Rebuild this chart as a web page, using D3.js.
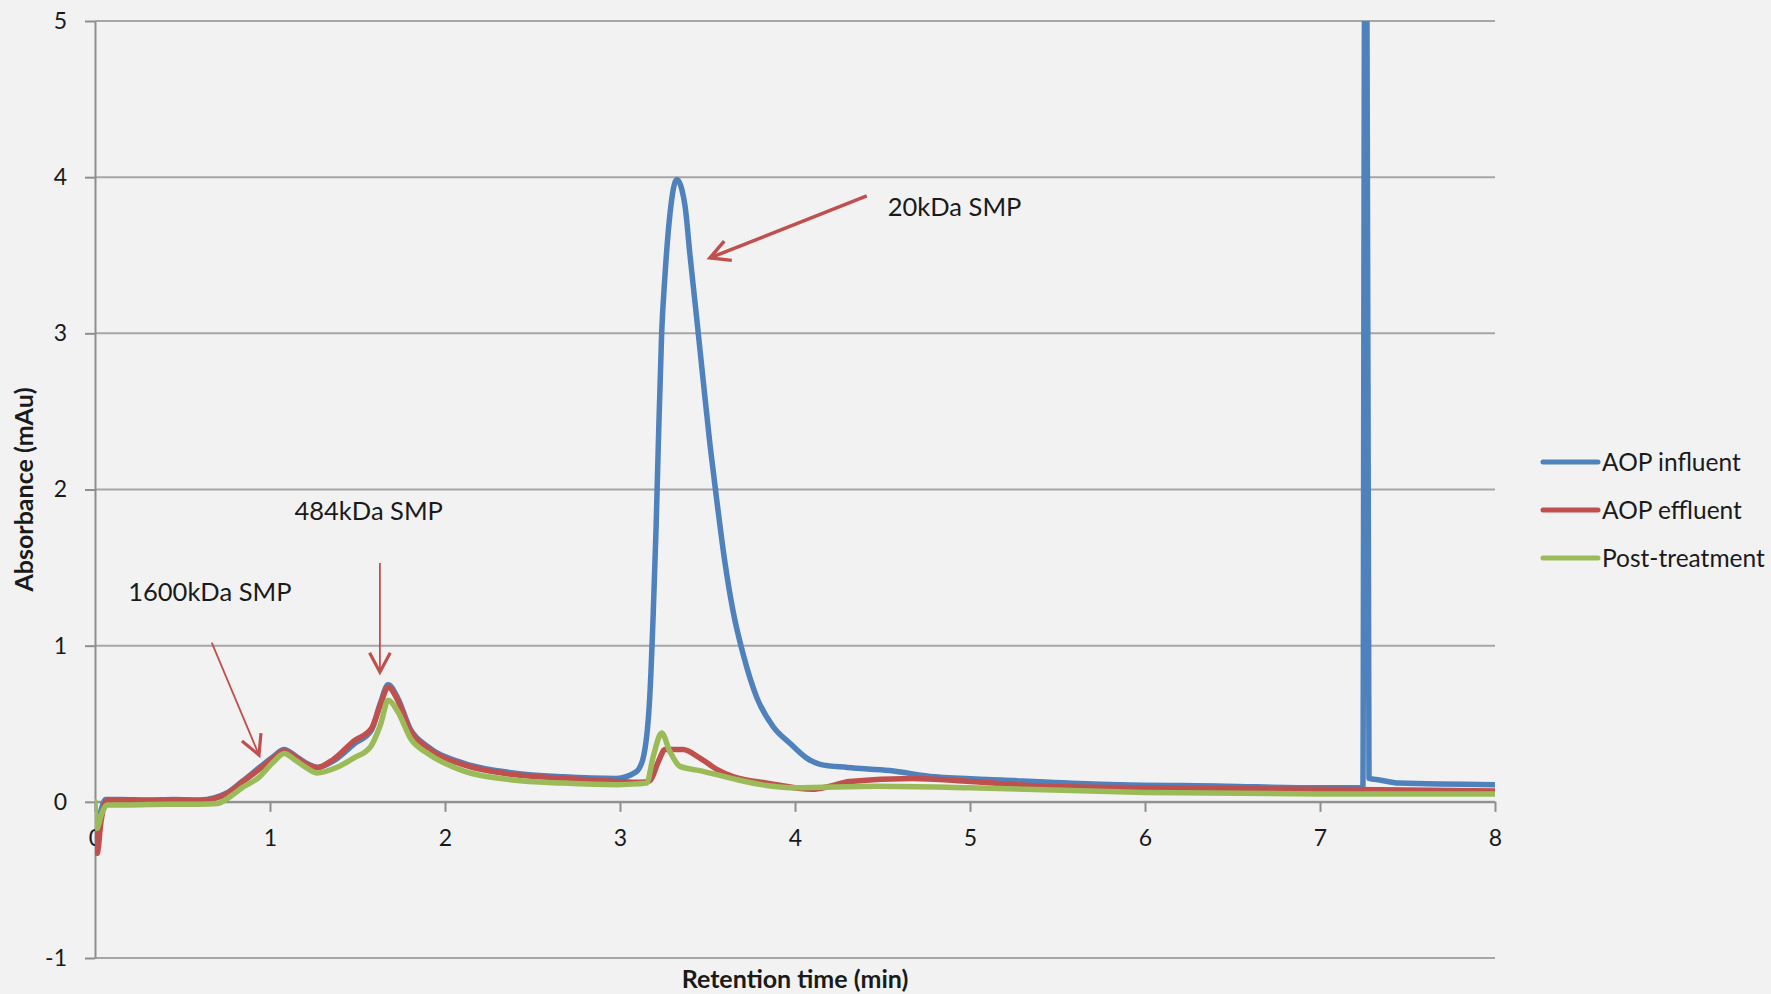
<!DOCTYPE html>
<html>
<head>
<meta charset="utf-8">
<script src="https://cdn.jsdelivr.net/npm/d3@7"></script>
<style>
  body { margin: 0; background: #f2f2f2; }
  text { font-family: Lato, "Open Sans", sans-serif; fill: #1a1a1a; }
</style>
</head>
<body>
<svg id="chart"></svg>
<script>
var width = 1771,
    height = 994;

// series: [retention time (min), absorbance (mAu)]
const influent = [
  [0.0, -0.12], [0.02, -0.1], [0.06, 0.015], [0.15, 0.015], [0.3, 0.012], [0.45, 0.015],
  [0.6, 0.012], [0.68, 0.025], [0.75, 0.055], [0.84, 0.13], [0.94, 0.22], [1.02, 0.29],
  [1.08, 0.335], [1.15, 0.29], [1.22, 0.24], [1.27, 0.22], [1.36, 0.26], [1.48, 0.37],
  [1.58, 0.46], [1.63, 0.63], [1.675, 0.75], [1.73, 0.665], [1.8, 0.47], [1.9, 0.355],
  [2.1, 0.25], [2.39, 0.185], [2.68, 0.16], [2.98, 0.15], [3.09, 0.19], [3.13, 0.27],
  [3.17, 0.67], [3.19, 1.21], [3.206, 1.75], [3.219, 2.29], [3.238, 3.0], [3.257, 3.37],
  [3.286, 3.77], [3.324, 3.985], [3.371, 3.82], [3.4, 3.5], [3.438, 3.1], [3.476, 2.69],
  [3.514, 2.29], [3.552, 1.94], [3.6, 1.53], [3.648, 1.21], [3.705, 0.94], [3.781, 0.67],
  [3.876, 0.48], [3.971, 0.375], [4.067, 0.28], [4.143, 0.24], [4.3, 0.22], [4.54, 0.2],
  [4.8, 0.16], [5.18, 0.14], [5.7, 0.115], [6.46, 0.1], [7.0, 0.09], [7.245, 0.09],
  [7.255, 5.2], [7.268, 5.2], [7.28, 0.15], [7.34, 0.14], [7.45, 0.12], [8.0, 0.11]
];

const effluent = [
  [0.0, -0.2], [0.012, -0.33], [0.035, -0.12], [0.07, 0.01], [0.15, 0.012], [0.3, 0.008],
  [0.45, 0.01], [0.6, 0.008], [0.68, 0.02], [0.75, 0.05], [0.84, 0.125], [0.94, 0.21],
  [1.02, 0.28], [1.08, 0.325], [1.15, 0.285], [1.22, 0.235], [1.27, 0.22], [1.36, 0.27],
  [1.48, 0.39], [1.58, 0.47], [1.63, 0.62], [1.675, 0.735], [1.73, 0.65], [1.8, 0.46],
  [1.9, 0.345], [2.1, 0.24], [2.39, 0.175], [2.68, 0.15], [2.98, 0.13], [3.12, 0.125],
  [3.171, 0.135], [3.22, 0.26], [3.257, 0.335], [3.36, 0.335], [3.457, 0.28], [3.55, 0.21],
  [3.65, 0.16], [3.84, 0.12], [4.1, 0.08], [4.2, 0.1], [4.31, 0.13], [4.67, 0.15],
  [5.0, 0.13], [5.43, 0.1], [6.0, 0.09], [7.0, 0.08], [8.0, 0.07]
];

const postTreatment = [
  [0.0, 0.0], [0.01, -0.17], [0.04, -0.07], [0.07, -0.02], [0.2, -0.02], [0.4, -0.015],
  [0.6, -0.015], [0.7, -0.01], [0.78, 0.04], [0.84, 0.09], [0.94, 0.16], [1.015, 0.25],
  [1.082, 0.31], [1.14, 0.27], [1.205, 0.22], [1.266, 0.185], [1.38, 0.22], [1.478, 0.28],
  [1.575, 0.354], [1.633, 0.5], [1.675, 0.65], [1.729, 0.58], [1.806, 0.4], [1.902, 0.31],
  [2.1, 0.2], [2.386, 0.14], [2.676, 0.12], [2.985, 0.11], [3.1, 0.115], [3.152, 0.12],
  [3.19, 0.29], [3.238, 0.44], [3.286, 0.32], [3.343, 0.227], [3.457, 0.2], [3.65, 0.147],
  [3.838, 0.105], [4.0, 0.09], [4.47, 0.1], [5.0, 0.09], [6.0, 0.06], [7.0, 0.05], [8.0, 0.05]
];

const seriesNames = ["AOP influent", "AOP effluent", "Post-treatment"];
const seriesColors = ["#4f81bd", "#c0504d", "#9bbb59"];

const xTicks = [0, 1, 2, 3, 4, 5, 6, 7, 8];
const yTicks = [-1, 0, 1, 2, 3, 4, 5];

// arrows: label, label position, arrow start, arrow tip (data units)
const notes = [
  { label: "20kDa SMP",   tx: 4.53, ty: 3.81, x1: 4.41, y1: 3.88, x2: 3.514, y2: 3.483, heavy: true },
  { label: "484kDa SMP",  tx: 1.14, ty: 1.86, x1: 1.628, y1: 1.53, x2: 1.628, y2: 0.83, heavy: false },
  { label: "1600kDa SMP", tx: 0.19, ty: 1.34, x1: 0.667, y1: 1.02, x2: 0.937, y2: 0.30, heavy: false }
];

const svg = d3.select("#chart")
  .attr("width", width)
  .attr("height", height);

svg.append("rect").attr("width", width).attr("height", height).attr("fill", "#f2f2f2");

var x = d3.scaleLinear().domain([0, 8]).range([95, 1495]);
var y = d3.scaleLinear().domain([-1, 5]).range([958, 21]);

// horizontal gridlines
svg.append("g")
  .selectAll("line")
  .data(yTicks)
  .enter().append("line")
  .attr("x1", x(0)).attr("x2", x(8))
  .attr("y1", d => y(d)).attr("y2", d => y(d))
  .attr("stroke", "#a6a6a6")
  .attr("stroke-width", 2);

var plain = d => String(d);

// y axis
var yAxis = svg.append("g")
  .attr("transform", "translate(" + x(0) + ",0)")
  .call(d3.axisLeft(y).tickValues(yTicks).tickFormat(plain)
    .tickSize(10).tickSizeOuter(0).tickPadding(18));

// x axis sits on zero
var xAxis = svg.append("g")
  .attr("transform", "translate(0," + y(0) + ")")
  .call(d3.axisBottom(x).tickValues(xTicks).tickFormat(plain)
    .tickSize(10).tickSizeOuter(0).tickPadding(18));

[yAxis, xAxis].forEach(g => {
  g.selectAll("path, line").attr("stroke", "#8e8e8e").attr("stroke-width", 2);
  g.selectAll("text")
    .style("font-size", "23px")
    .style("font-family", "Lato, sans-serif")
    .attr("fill", "#1a1a1a");
});

// axis titles
svg.append("text")
  .attr("x", x(4)).attr("y", 988)
  .attr("text-anchor", "middle")
  .style("font-size", "25px").style("font-weight", "bold")
  .text("Retention time (min)");

svg.append("text")
  .attr("transform", "translate(33," + y(2) + ") rotate(-90)")
  .attr("text-anchor", "middle")
  .style("font-size", "25px").style("font-weight", "bold")
  .text("Absorbance (mAu)");

// clip the traces to the plot area
svg.append("clipPath").attr("id", "plot")
  .append("rect")
  .attr("x", x(0)).attr("y", y(5))
  .attr("width", x(8) - x(0)).attr("height", y(-1) - y(5));

var line = d3.line()
  .x(d => x(d[0]))
  .y(d => y(d[1]))
  .curve(d3.curveMonotoneX);

const allSeries = [influent, effluent, postTreatment];

// same order as the legend, last one on top
svg.append("g").attr("clip-path", "url(#plot)")
  .selectAll("path")
  .data([0, 1, 2])
  .enter().append("path")
  .attr("d", i => line(allSeries[i]))
  .attr("fill", "none")
  .attr("stroke", i => seriesColors[i])
  .attr("stroke-width", 5.5)
  .attr("stroke-linejoin", "round")
  .attr("stroke-linecap", "round");

// annotations
var noteG = svg.append("g");
notes.forEach(n => {
  var px1 = x(n.x1), py1 = y(n.y1), px2 = x(n.x2), py2 = y(n.y2);
  var ang = Math.atan2(py1 - py2, px1 - px2);
  var headLen = 22, spread = 28 * Math.PI / 180;
  var shaftW = n.heavy ? 3.5 : 1.8;
  var headW = n.heavy ? 3.5 : 3.2;

  noteG.append("line")
    .attr("x1", px1).attr("y1", py1).attr("x2", px2).attr("y2", py2)
    .attr("stroke", "#c0504d").attr("stroke-width", shaftW);

  var a1 = [px2 + headLen * Math.cos(ang - spread), py2 + headLen * Math.sin(ang - spread)];
  var a2 = [px2 + headLen * Math.cos(ang + spread), py2 + headLen * Math.sin(ang + spread)];
  noteG.append("path")
    .attr("d", "M" + a1 + "L" + px2 + "," + py2 + "L" + a2)
    .attr("fill", "none")
    .attr("stroke", "#c0504d").attr("stroke-width", headW);

  noteG.append("text")
    .attr("x", x(n.tx)).attr("y", y(n.ty))
    .attr("dy", "0.35em")
    .style("font-size", "25.5px")
    .text(n.label);
});

// legend
var legend = svg.append("g")
  .selectAll("g")
  .data(seriesNames)
  .enter().append("g")
  .attr("transform", (d, i) => "translate(1543," + (462 + i * 48) + ")");

legend.append("line")
  .attr("x1", 0).attr("x2", 55)
  .attr("stroke", (d, i) => seriesColors[i])
  .attr("stroke-width", 5)
  .attr("stroke-linecap", "round");

legend.append("text")
  .attr("x", 59).attr("dy", "0.35em")
  .style("font-size", "24.5px")
  .text(d => d);
</script>
</body>
</html>
